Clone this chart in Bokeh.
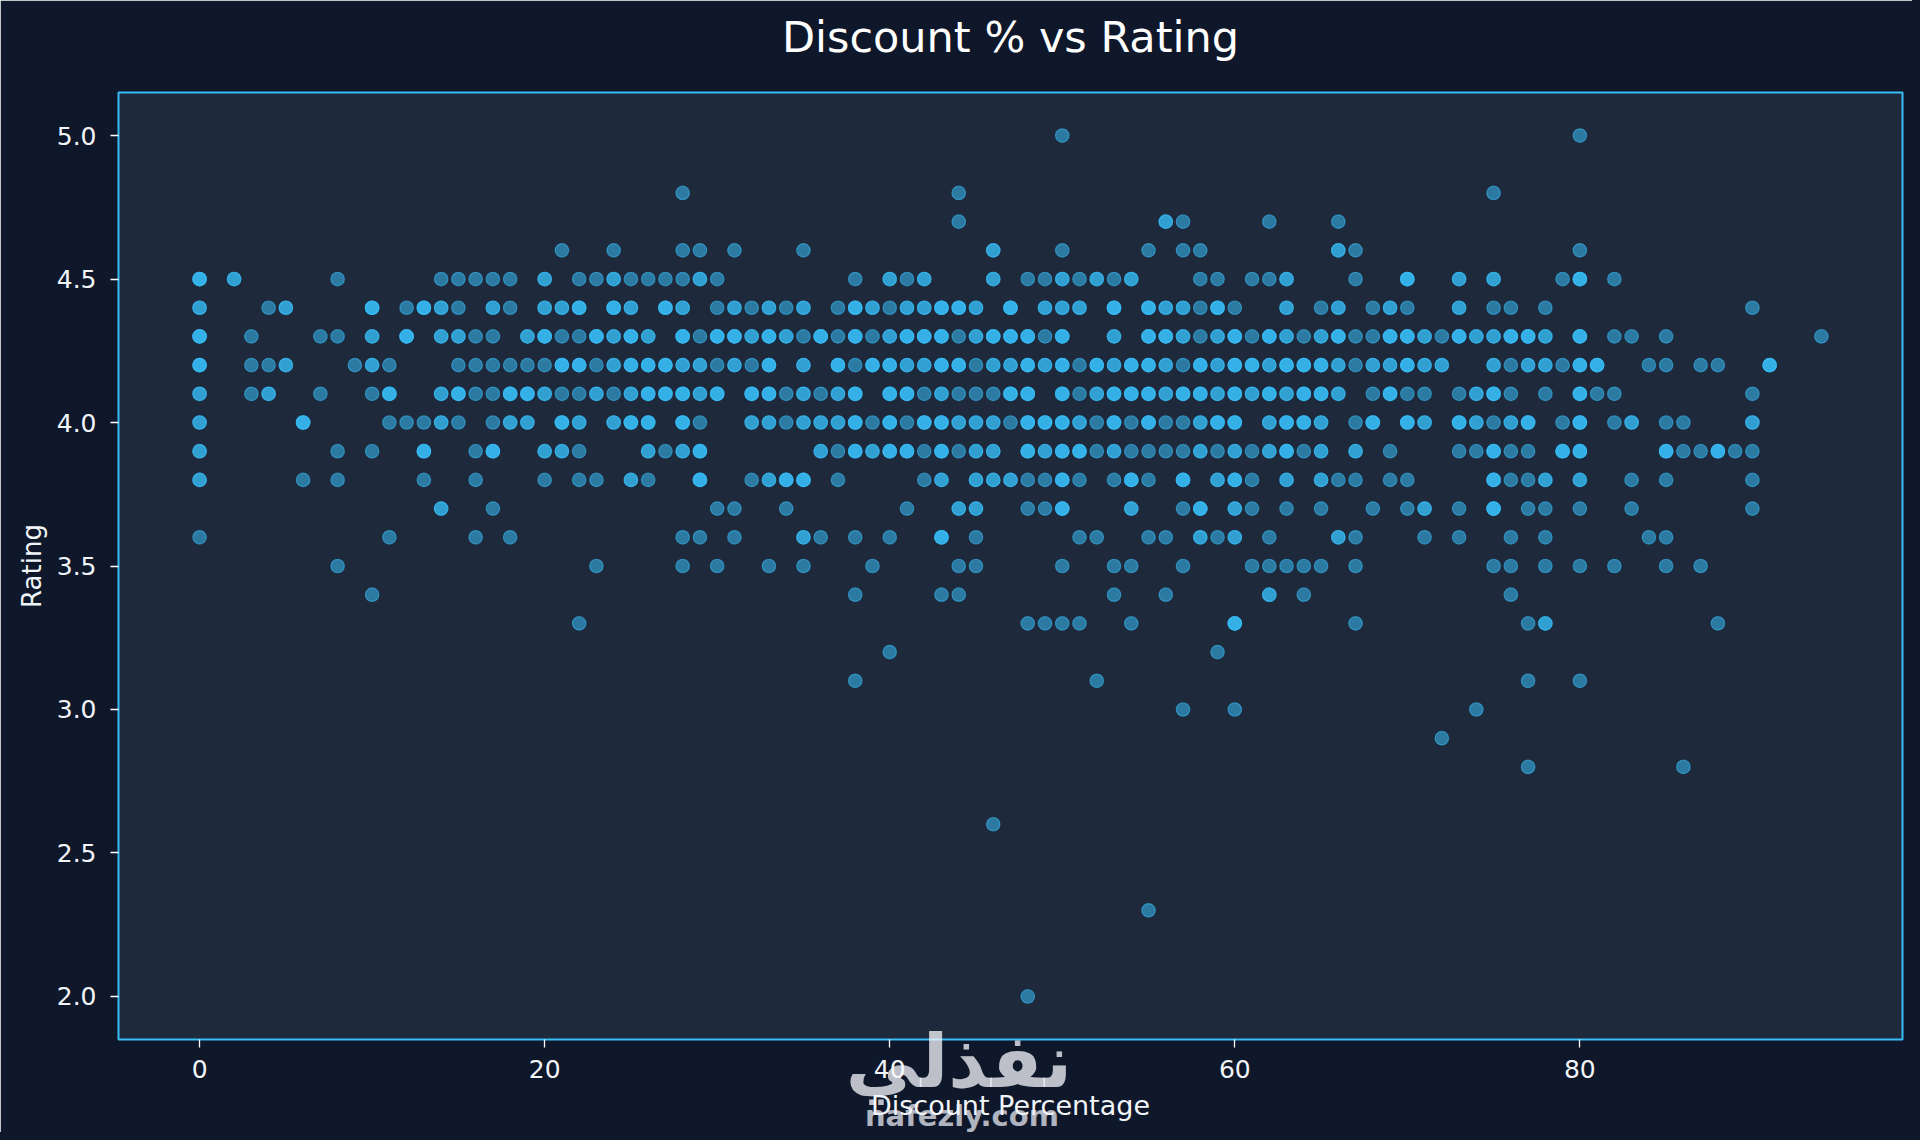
from bokeh.plotting import figure
from bokeh.layouts import column
from bokeh.models import Range1d, FixedTicker, NumeralTickFormatter, Title
from bokeh.core.properties import value
from bokeh.embed import file_html
from bokeh.resources import INLINE

title_text = "Discount % vs Rating"
x_label = "Discount Percentage"
y_label = "Rating"
x_ticks = [0, 20, 40, 60, 80]
y_ticks = [2.0, 2.5, 3.0, 3.5, 4.0, 4.5, 5.0]

# Discounts per rating level; a repeated value is an overlapping (brighter) point.
r50 = [50, 80]
r48 = [28, 44, 75]
r47 = [44, 56, 56, 57, 62, 66]
r46 = [21, 24, 28, 29, 31, 35, 46, 46, 50, 55, 57, 58, 66, 66, 67, 80]
r45 = [0, 0, 0, 2, 2, 8, 14, 15, 16, 17, 18, 20, 20, 22, 23, 24, 24, 25, 26, 27, 28, 29, 29, 30, 38, 40, 40, 41, 42, 42,
       46, 46, 48, 49, 50, 50, 51, 52, 52, 53, 54, 54, 58, 59, 61, 62, 63, 63, 67, 70, 70, 70, 73, 73, 75, 75, 79, 80, 80, 80, 82]
r44 = [0, 0, 4, 5, 5, 10, 10, 10, 12, 13, 13, 13, 14, 14, 15, 17, 17, 18, 20, 20, 21, 21, 22, 22, 22, 24, 24, 24, 25, 25,
       27, 27, 27, 28, 28, 30, 31, 31, 32, 33, 33, 34, 35, 35, 37, 38, 38, 38, 39, 39, 40, 41, 41, 42, 42, 43, 43, 43,
       44, 44, 44, 45, 45, 47, 47, 47, 49, 49, 50, 50, 51, 51, 53, 53, 53, 55, 55, 55, 56, 56, 57, 57, 58, 59, 59, 59, 60,
       63, 63, 65, 66, 66, 68, 69, 69, 70, 73, 73, 75, 76, 78, 90]
r43 = [0, 0, 0, 3, 7, 8, 10, 10, 12, 12, 12, 14, 14, 15, 15, 16, 17, 19, 19, 20, 20, 20, 21, 22, 23, 23, 23, 24, 24, 25, 25, 25,
       26, 26, 28, 28, 28, 29, 30, 30, 30, 31, 31, 31, 32, 32, 33, 33, 33, 34, 34, 35, 36, 36, 36, 37, 38, 38, 38, 39, 40, 40,
       41, 41, 41, 42, 42, 42, 43, 43, 43, 44, 45, 45, 46, 46, 46, 47, 47, 47, 48, 48, 48, 49, 50, 50, 50, 53, 53, 55, 55, 55,
       56, 56, 56, 57, 57, 58, 59, 59, 60, 60, 60, 61, 62, 62, 62, 63, 63, 64, 65, 65, 66, 66, 66, 67, 68, 69, 69, 69, 70, 70, 70,
       71, 71, 72, 73, 73, 73, 74, 74, 75, 75, 76, 76, 76, 77, 77, 77, 78, 78, 80, 80, 80, 82, 83, 85, 94]
r42 = [0, 0, 0, 3, 4, 5, 5, 9, 10, 10, 11, 15, 16, 17, 18, 19, 20, 21, 21, 21, 22, 22, 22, 23, 24, 24, 25, 25, 25,
       26, 26, 26, 27, 27, 27, 28, 28, 29, 29, 30, 31, 31, 32, 33, 33, 33, 35, 35, 37, 37, 37, 38, 39, 39, 39, 40, 40, 40, 41, 41,
       42, 42, 43, 43, 43, 44, 44, 44, 45, 46, 46, 47, 47, 48, 48, 48, 49, 49, 50, 50, 50, 51, 52, 52, 52, 53, 53, 54, 54, 54,
       55, 55, 55, 56, 56, 57, 58, 58, 58, 59, 59, 60, 60, 60, 61, 61, 61, 62, 62, 63, 63, 63, 64, 64, 64, 65, 65, 65, 66, 66, 67,
       68, 68, 69, 69, 70, 70, 70, 71, 71, 72, 72, 75, 75, 76, 77, 77, 78, 78, 79, 80, 80, 80, 81, 81, 81, 84, 85, 87, 88, 91, 91, 91]
r41 = [0, 0, 3, 4, 4, 7, 10, 11, 11, 11, 14, 14, 15, 15, 15, 16, 17, 18, 18, 18, 19, 19, 19, 20, 20, 21, 22, 23, 23, 24, 25, 25,
       26, 26, 26, 27, 27, 27, 28, 28, 28, 29, 29, 30, 30, 30, 32, 32, 32, 33, 33, 33, 34, 35, 35, 36, 37, 37, 38, 38, 38, 40, 40, 40,
       41, 41, 41, 42, 43, 43, 44, 45, 46, 47, 47, 47, 48, 48, 48, 50, 50, 50, 51, 52, 52, 53, 53, 53, 54, 54, 54, 55, 55, 55, 56, 56,
       57, 57, 57, 58, 58, 58, 59, 59, 60, 60, 60, 61, 61, 62, 62, 62, 63, 63, 64, 64, 64, 65, 65, 65, 66, 66, 68, 69, 69, 69, 70, 71,
       73, 74, 74, 75, 75, 75, 76, 78, 80, 80, 80, 81, 82, 90]
r40 = [0, 0, 6, 6, 6, 11, 12, 13, 14, 14, 15, 17, 18, 18, 19, 19, 21, 21, 21, 22, 22, 24, 24, 25, 25, 25,
       26, 26, 26, 28, 28, 28, 29, 32, 32, 33, 33, 34, 35, 35, 36, 36, 37, 37, 38, 38, 38, 39, 40, 40, 40, 41, 42, 42, 42, 43, 43, 43,
       44, 44, 45, 45, 46, 46, 47, 48, 48, 48, 49, 49, 49, 50, 50, 50, 51, 51, 52, 53, 53, 53, 54, 55, 55, 55, 56, 57, 58, 58, 59, 59, 59,
       60, 60, 60, 62, 62, 63, 63, 63, 64, 64, 64, 65, 65, 67, 68, 68, 68, 70, 70, 70, 71, 71, 73, 73, 73, 74, 74, 75, 76, 76, 77, 77, 77,
       79, 80, 80, 80, 82, 83, 83, 85, 86, 90, 90]
r39 = [0, 0, 8, 10, 13, 13, 13, 16, 17, 17, 17, 20, 20, 21, 21, 22, 26, 26, 27, 28, 28, 29, 29, 29, 36, 36, 37, 38, 38, 38, 39, 39,
       40, 40, 40, 41, 41, 41, 42, 43, 43, 43, 44, 45, 45, 46, 46, 48, 48, 48, 49, 49, 50, 50, 50, 51, 51, 51, 52, 53, 53, 54, 55, 56, 57,
       58, 58, 59, 60, 60, 61, 62, 62, 63, 63, 63, 64, 65, 65, 67, 67, 69, 73, 74, 75, 75, 75, 76, 77, 79, 79, 79, 80, 80, 80,
       85, 85, 85, 86, 87, 88, 88, 88, 89, 90]
r38 = [0, 0, 6, 8, 13, 16, 20, 22, 23, 25, 25, 26, 29, 29, 29, 32, 33, 33, 34, 34, 34, 35, 35, 35, 37, 42, 43, 43, 45, 45, 46, 46,
       47, 47, 48, 49, 50, 50, 50, 51, 53, 54, 54, 54, 55, 57, 57, 57, 59, 59, 60, 60, 60, 61, 63, 63, 65, 65, 66, 67, 69, 70,
       75, 75, 75, 76, 77, 78, 78, 80, 80, 83, 85, 90]
r37 = [14, 14, 17, 30, 31, 34, 41, 44, 44, 45, 45, 48, 49, 50, 50, 50, 54, 54, 57, 58, 58, 58, 60, 60, 61, 63, 65, 68, 70, 71, 71, 73,
       75, 75, 75, 77, 78, 80, 83, 90]
r36 = [0, 11, 16, 18, 28, 29, 31, 35, 35, 36, 38, 40, 43, 43, 43, 45, 51, 52, 55, 56, 58, 58, 59, 60, 60, 62, 66, 66, 67, 71, 73, 76, 78, 84, 85]
r35 = [8, 23, 28, 30, 33, 35, 39, 44, 45, 50, 53, 54, 57, 61, 62, 63, 64, 65, 67, 75, 76, 78, 80, 82, 85, 87]
r34 = [10, 38, 43, 44, 53, 56, 62, 62, 64, 76]
r33 = [22, 48, 49, 50, 51, 54, 60, 60, 60, 67, 77, 78, 78, 88]
r32 = [40, 59]
r31 = [38, 52, 77, 80]
r30 = [57, 60, 74]
r29 = [72]
r28 = [77, 86]
r26 = [46]
r23 = [55]
r20 = [48]

rating_levels = [5.0, 4.8, 4.7, 4.6, 4.5, 4.4, 4.3, 4.2, 4.1, 4.0, 3.9, 3.8, 3.7, 3.6, 3.5, 3.4, 3.3, 3.2, 3.1, 3.0, 2.9, 2.8, 2.6, 2.3, 2.0]
discounts_by_level = [r50, r48, r47, r46, r45, r44, r43, r42, r41, r40, r39, r38, r37, r36, r35, r34, r33, r32, r31, r30, r29, r28, r26, r23, r20]

xs, ys = [], []
for level, ds in zip(rating_levels, discounts_by_level):
    xs.extend(ds)
    ys.extend([level] * len(ds))

BG = "#0f172a"
PANEL = "#1e293b"
ACCENT = "#38bdf8"
TXT = "#f1f5f9"
W, H = 1912, 1132

chart = figure(width=W, height=H, output_backend="svg", toolbar_location=None,
               x_range=Range1d(-4.7, 98.7), y_range=Range1d(1.85, 5.15),
               min_border_left=118, min_border_right=10, min_border_top=92, min_border_bottom=93,
               background_fill_color=PANEL, border_fill_color=BG,
               outline_line_color=ACCENT, outline_line_width=2,
               styles={"box-shadow": "0 0 0 60px " + BG})

chart.title.text = title_text
chart.title.align = "center"
chart.title.text_font = "DejaVu Sans"
chart.title.text_font_style = "normal"
chart.title.text_font_size = "43px"
chart.title.text_color = "#ffffff"
chart.title.standoff = 0
# Thin blank band between the title and the plot: lifts the title without moving the plot.
chart.add_layout(Title(text=" ", text_font_size="1px", standoff=28), "above")

chart.grid.visible = False
for ax, label, ticks in ((chart.xaxis[0], x_label, x_ticks), (chart.yaxis[0], y_label, y_ticks)):
    ax.axis_label = label
    ax.ticker = FixedTicker(ticks=ticks)
    ax.axis_line_color = None
    ax.major_tick_line_color = "#ffffff"
    ax.major_tick_line_width = 1.3
    ax.major_tick_in = 0
    ax.major_tick_out = 8
    ax.minor_tick_line_color = None
    ax.major_label_text_color = TXT
    ax.major_label_text_font = "DejaVu Sans"
    ax.major_label_text_font_size = "25px"
    ax.axis_label_text_color = TXT
    ax.axis_label_text_font = "DejaVu Sans"
    ax.axis_label_text_font_style = "normal"
chart.xaxis[0].axis_label_text_font_size = "27px"
chart.yaxis[0].axis_label_text_font_size = "26px"
chart.xaxis[0].major_label_standoff = 12
chart.yaxis[0].major_label_standoff = 14
chart.xaxis[0].axis_label_standoff = 9
chart.yaxis[0].axis_label_standoff = 7
chart.yaxis[0].formatter = NumeralTickFormatter(format="0.0")

chart.scatter(xs, ys, size=13.5, marker="circle", fill_color=ACCENT, line_color=ACCENT,
              fill_alpha=0.55, line_alpha=0.55, line_width=1.2)

# Watermark: a transparent figure laid exactly over the chart, in page pixels.
mark = figure(width=W, height=H, output_backend="svg", toolbar_location=None,
              x_range=Range1d(0, W), y_range=Range1d(H, 0),
              min_border=0, outline_line_color=None,
              background_fill_alpha=0, border_fill_alpha=0,
              styles={"position": "absolute", "left": "0", "top": "0", "pointer-events": "none"})
mark.axis.visible = False
mark.grid.visible = False
mark.text(x=[1022], y=[1060], text=["نفذلي"], text_font=value("DejaVu Sans"), text_font_style="bold",
          text_font_size="74px", text_color="#f8fafe", text_alpha=0.75, text_align="right", text_baseline="alphabetic")
mark.text(x=[800], y=[1115], text=["nafezly.com"], text_font=value("DejaVu Sans"), text_font_style="bold",
          text_font_size="29px", text_color="#f0f2f8", text_alpha=0.72, text_align="left", text_baseline="alphabetic")

page = column(chart, mark, spacing=0, styles={"position": "relative"})

open("out.html", "w").write(file_html(page, INLINE))
